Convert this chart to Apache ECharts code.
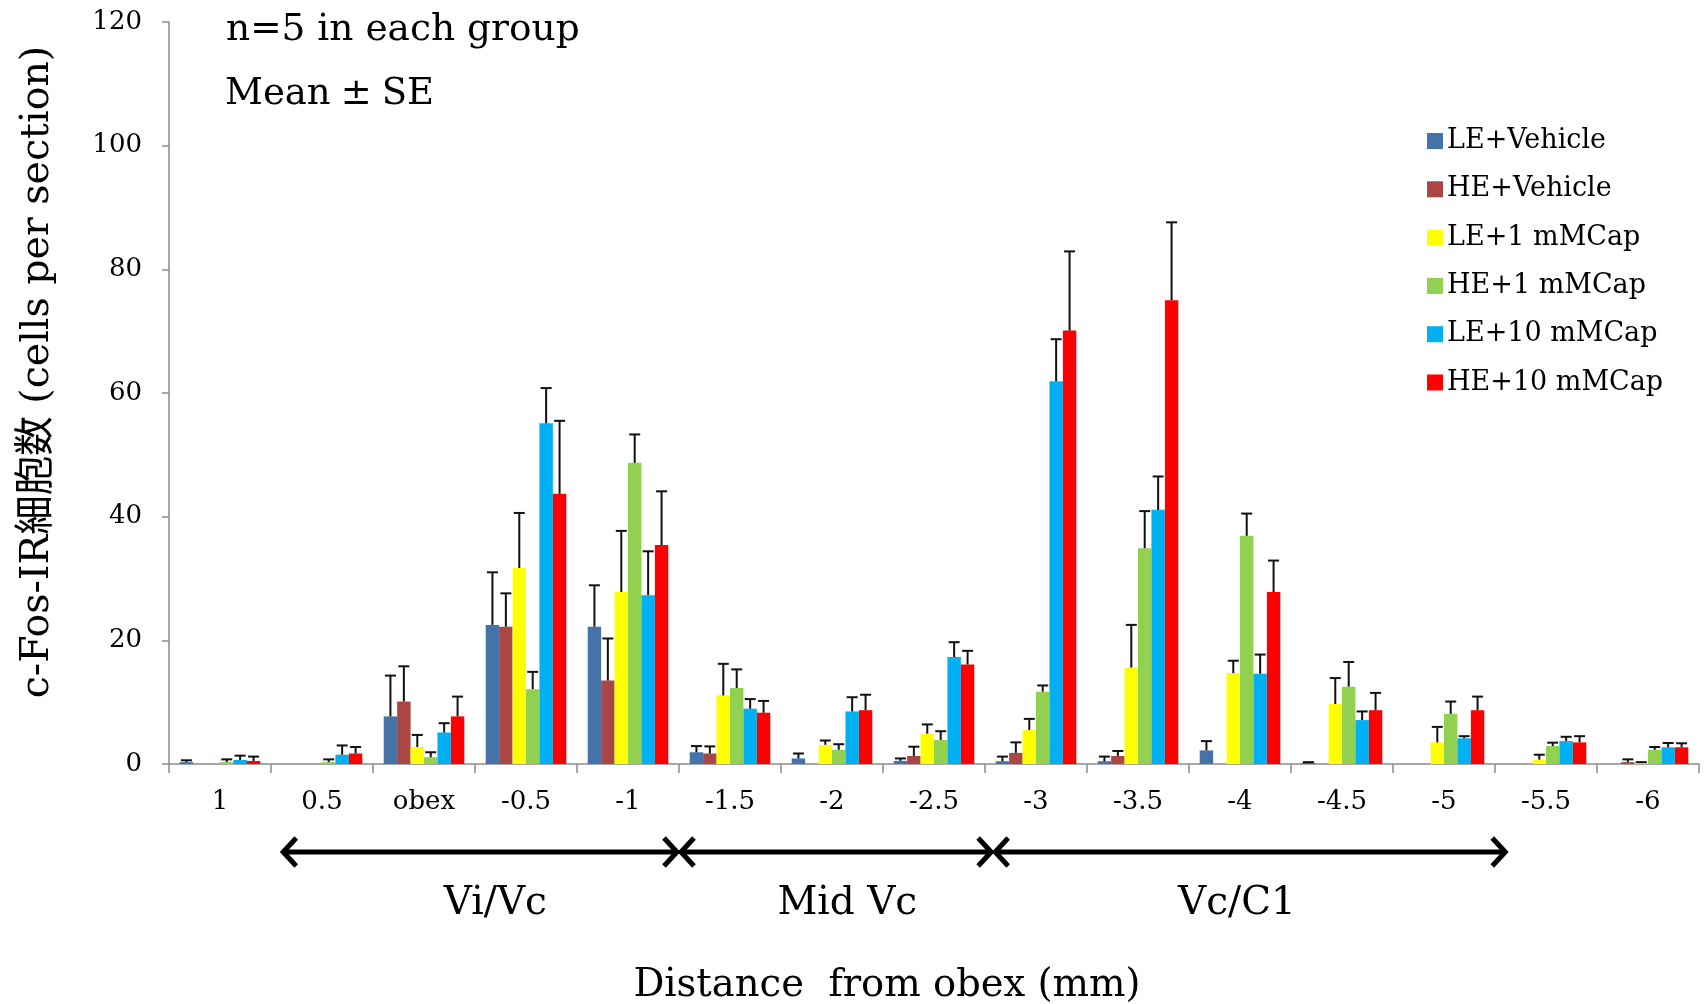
<!DOCTYPE html>
<html>
<head>
<meta charset="utf-8">
<script src="https://cdn.jsdelivr.net/npm/echarts@6/dist/echarts.min.js"></script>
<style>
html,body{margin:0;padding:0;background:#fff;}
#chart{width:1706px;height:1004px;}
</style>
</head>
<body>
<div id="chart"></div>
<script>
const categories = ['1','0.5','obex','-0.5','-1','-1.5','-2','-2.5','-3','-3.5','-4','-4.5','-5','-5.5','-6'];
const seriesNames = ['LE+Vehicle','HE+Vehicle','LE+1 mMCap','HE+1 mMCap','LE+10 mMCap','HE+10 mMCap'];
const seriesColors = ['#4572A7','#AA4643','#FFFF00','#92D050','#00B0F0','#FF0000'];

const leVehicle    = [0.3, 0,   7.7, 22.5, 22.2, 1.9, 0.9, 0.5, 0.45, 0.45, 2.2, 0.2, 0,   0,   0];
const leVehicleSE  = [0.3, 0,   6.6, 8.5,  6.7,  1.0, 0.8, 0.4, 0.75, 0.75, 1.5, 0.1, 0,   0,   0];
const heVehicle    = [0,   0,   10.1, 22.2, 13.5, 1.7, 0,  1.3, 1.8,  1.3,  0,   0,   0,   0,   0.3];
const heVehicleSE  = [0,   0,   5.7, 5.4,  6.8,  1.15, 0,  1.5, 1.7,  0.8,  0,   0,   0,   0,   0.45];
const le1Cap       = [0,   0,   2.75, 31.7, 27.8, 11.1, 3.1, 4.9, 5.5, 15.6, 14.7, 9.7, 3.5, 0.7, 0.2];
const le1CapSE     = [0,   0,   1.95, 8.9,  9.9,  5.1,  0.7, 1.5, 1.8, 6.9,  2.0,  4.2, 2.5, 0.8, 0.1];
const he1Cap       = [0.3, 0.3, 1.1, 12.1, 48.7, 12.3, 2.3, 3.9, 11.7, 34.9, 36.9, 12.5, 8.1, 2.9, 2.3];
const he1CapSE     = [0.45, 0.45, 0.8, 2.8, 4.6, 3.0, 0.9, 1.4, 1.0, 6.0, 3.6, 4.0, 2.0, 0.55, 0.45];
const le10Cap      = [0.65, 1.5, 5.1, 55.1, 27.3, 8.95, 8.5, 17.3, 61.9, 41.1, 14.6, 7.1, 4.15, 3.7, 2.7];
const le10CapSE    = [0.7, 1.5, 1.5, 5.7, 7.1, 1.55, 2.3, 2.4, 6.8, 5.4, 3.1, 1.4, 0.35, 0.7, 0.7];
const he10Cap      = [0.5, 1.7, 7.7, 43.7, 35.4, 8.3, 8.7, 16.1, 70.1, 75.0, 27.8, 8.7, 8.7, 3.5, 2.7];
const he10CapSE    = [0.7, 1.05, 3.2, 11.8, 8.7, 1.9, 2.5, 2.2, 12.8, 12.6, 5.1, 2.8, 2.2, 1.0, 0.65];

const yTicks = { min: 0, max: 120, interval: 20 };
// spans and label positions in category-band units from the left of the axis
const regions = [
  { name: 'Vi/Vc',  from: 1.1,  to: 5.0,   labelAt: 3.2 },
  { name: 'Mid Vc', from: 5.0,  to: 8.08,  labelAt: 6.65 },
  { name: 'Vc/C1',  from: 8.08, to: 13.12, labelAt: 10.47 }
];

const means = [leVehicle, heVehicle, le1Cap, he1Cap, le10Cap, he10Cap];
const ses = [leVehicleSE, heVehicleSE, le1CapSE, he1CapSE, le10CapSE, he10CapSE];

const FONT = "'DejaVu Serif', 'Noto Sans CJK JP', serif";
const CAT_GAP = 0.21;
const N = seriesNames.length;

const chart = echarts.init(document.getElementById('chart'), null, { renderer: 'canvas' });

const series = [];
seriesNames.forEach((name, i) => {
  series.push({
    name: name,
    type: 'bar',
    data: means[i],
    barGap: '0%',
    barCategoryGap: (CAT_GAP * 100) + '%',
    itemStyle: { color: seriesColors[i] },
    z: 2,
    animation: false
  });
});
seriesNames.forEach((name, i) => {
  series.push({
    name: name + ' SE',
    type: 'custom',
    z: 3,
    animation: false,
    silent: true,
    encode: { x: 0, y: [1, 2] },
    data: means[i].map((m, j) => [j, m, m + ses[i][j]]).filter((d, j) => ses[i][j] > 0),
    renderItem: function (params, api) {
      const c = api.value(0), m = api.value(1), t = api.value(2);
      const p0 = api.coord([c, m]);
      const p1 = api.coord([c, t]);
      const band = api.size([1, 0])[0];
      const groupW = band * (1 - CAT_GAP);
      const bw = groupW / N;
      const x = p0[0] - groupW / 2 + (i + 0.5) * bw;
      const cap = 5.5;
      const st = { stroke: '#111', lineWidth: 2 };
      return {
        type: 'group',
        children: [
          { type: 'line', shape: { x1: x, y1: p0[1], x2: x, y2: p1[1] }, style: st },
          { type: 'line', shape: { x1: x - cap, y1: p1[1], x2: x + cap, y2: p1[1] }, style: st }
        ]
      };
    }
  });
});

const option = {
  animation: false,
  backgroundColor: '#fff',
  textStyle: { fontFamily: FONT, color: '#000' },
  grid: { left: 169, right: 7, top: 22, bottom: 240, containLabel: false },
  legend: {
    data: seriesNames,
    orient: 'vertical',
    left: 1422,
    top: 122,
    icon: 'rect',
    itemWidth: 16,
    itemHeight: 16,
    itemGap: 20.3,
    textStyle: { fontFamily: FONT, fontSize: 27, color: '#000', lineHeight: 28, padding: [0, 0, 0, -1] }
  },
  xAxis: {
    type: 'category',
    data: categories,
    axisLine: { lineStyle: { color: '#8a8a8a', width: 1.5 } },
    axisTick: { show: true, alignWithLabel: false, length: 9, lineStyle: { color: '#8a8a8a', width: 1.5 } },
    axisLabel: { fontFamily: FONT, fontSize: 26, color: '#000', margin: 25, interval: 0 },
    splitLine: { show: false }
  },
  yAxis: {
    type: 'value',
    min: yTicks.min,
    max: yTicks.max,
    interval: yTicks.interval,
    axisLine: { show: true, lineStyle: { color: '#8a8a8a', width: 1.5 } },
    axisTick: { show: true, length: 7, lineStyle: { color: '#8a8a8a', width: 1.5 } },
    axisLabel: { fontFamily: FONT, fontSize: 26, color: '#000', margin: 27 },
    splitLine: { show: false }
  },
  series: series
};
chart.setOption(option);

function buildGraphics() {
  const c0 = chart.convertToPixel({ xAxisIndex: 0 }, 0);
  const c1 = chart.convertToPixel({ xAxisIndex: 0 }, 1);
  const band = c1 - c0;
  const left = c0 - band / 2;
  const yZero = chart.convertToPixel({ yAxisIndex: 0 }, 0);
  const arrowY = yZero + 88;
  const labelY = yZero + 140;
  const elements = [];
  const st = { stroke: '#000', lineWidth: 5, lineCap: 'butt', lineJoin: 'miter', fill: null };
  regions.forEach(r => {
    const x1 = left + r.from * band;
    const x2 = left + r.to * band;
    elements.push({ type: 'line', shape: { x1: x1 + 2, y1: arrowY, x2: x2 - 2, y2: arrowY }, style: st, z: 10 });
    elements.push({ type: 'polyline', shape: { points: [[x1 + 15, arrowY - 14], [x1 + 2, arrowY], [x1 + 15, arrowY + 14]] }, style: st, z: 10 });
    elements.push({ type: 'polyline', shape: { points: [[x2 - 15, arrowY - 14], [x2 - 2, arrowY], [x2 - 15, arrowY + 14]] }, style: st, z: 10 });
    elements.push({
      type: 'text', x: left + r.labelAt * band, y: labelY, z: 10,
      style: { text: r.name, font: '39px ' + FONT, fill: '#000', textAlign: 'center', textVerticalAlign: 'middle' }
    });
  });
  elements.push({
    type: 'text', x: 887, y: 986, z: 10,
    style: { text: 'Distance  from obex (mm)', font: '38.5px ' + FONT, fill: '#000', textAlign: 'center', textVerticalAlign: 'middle' }
  });
  elements.push({
    type: 'text', x: 38, y: 372, rotation: Math.PI / 2, z: 10,
    style: { text: 'c-Fos-IR細胞数 (cells per section)', font: '39.5px ' + FONT, fill: '#000', textAlign: 'center', textVerticalAlign: 'middle' }
  });
  elements.push({
    type: 'text', x: 226, y: 30, z: 10,
    style: { text: 'n=5 in each group', font: '37.5px ' + FONT, fill: '#000', textAlign: 'left', textVerticalAlign: 'middle' }
  });
  elements.push({
    type: 'text', x: 225, y: 94, z: 10,
    style: {
      text: 'Mean{pm|\u00B1}SE', font: '37px ' + FONT, fill: '#000', textAlign: 'left', textVerticalAlign: 'middle',
      rich: { pm: { fontFamily: FONT, fontSize: 37, fill: '#000', padding: [0, 10, 0, 10] } }
    }
  });
  chart.setOption({ graphic: { elements: elements } });
}
buildGraphics();
</script>
</body>
</html>
